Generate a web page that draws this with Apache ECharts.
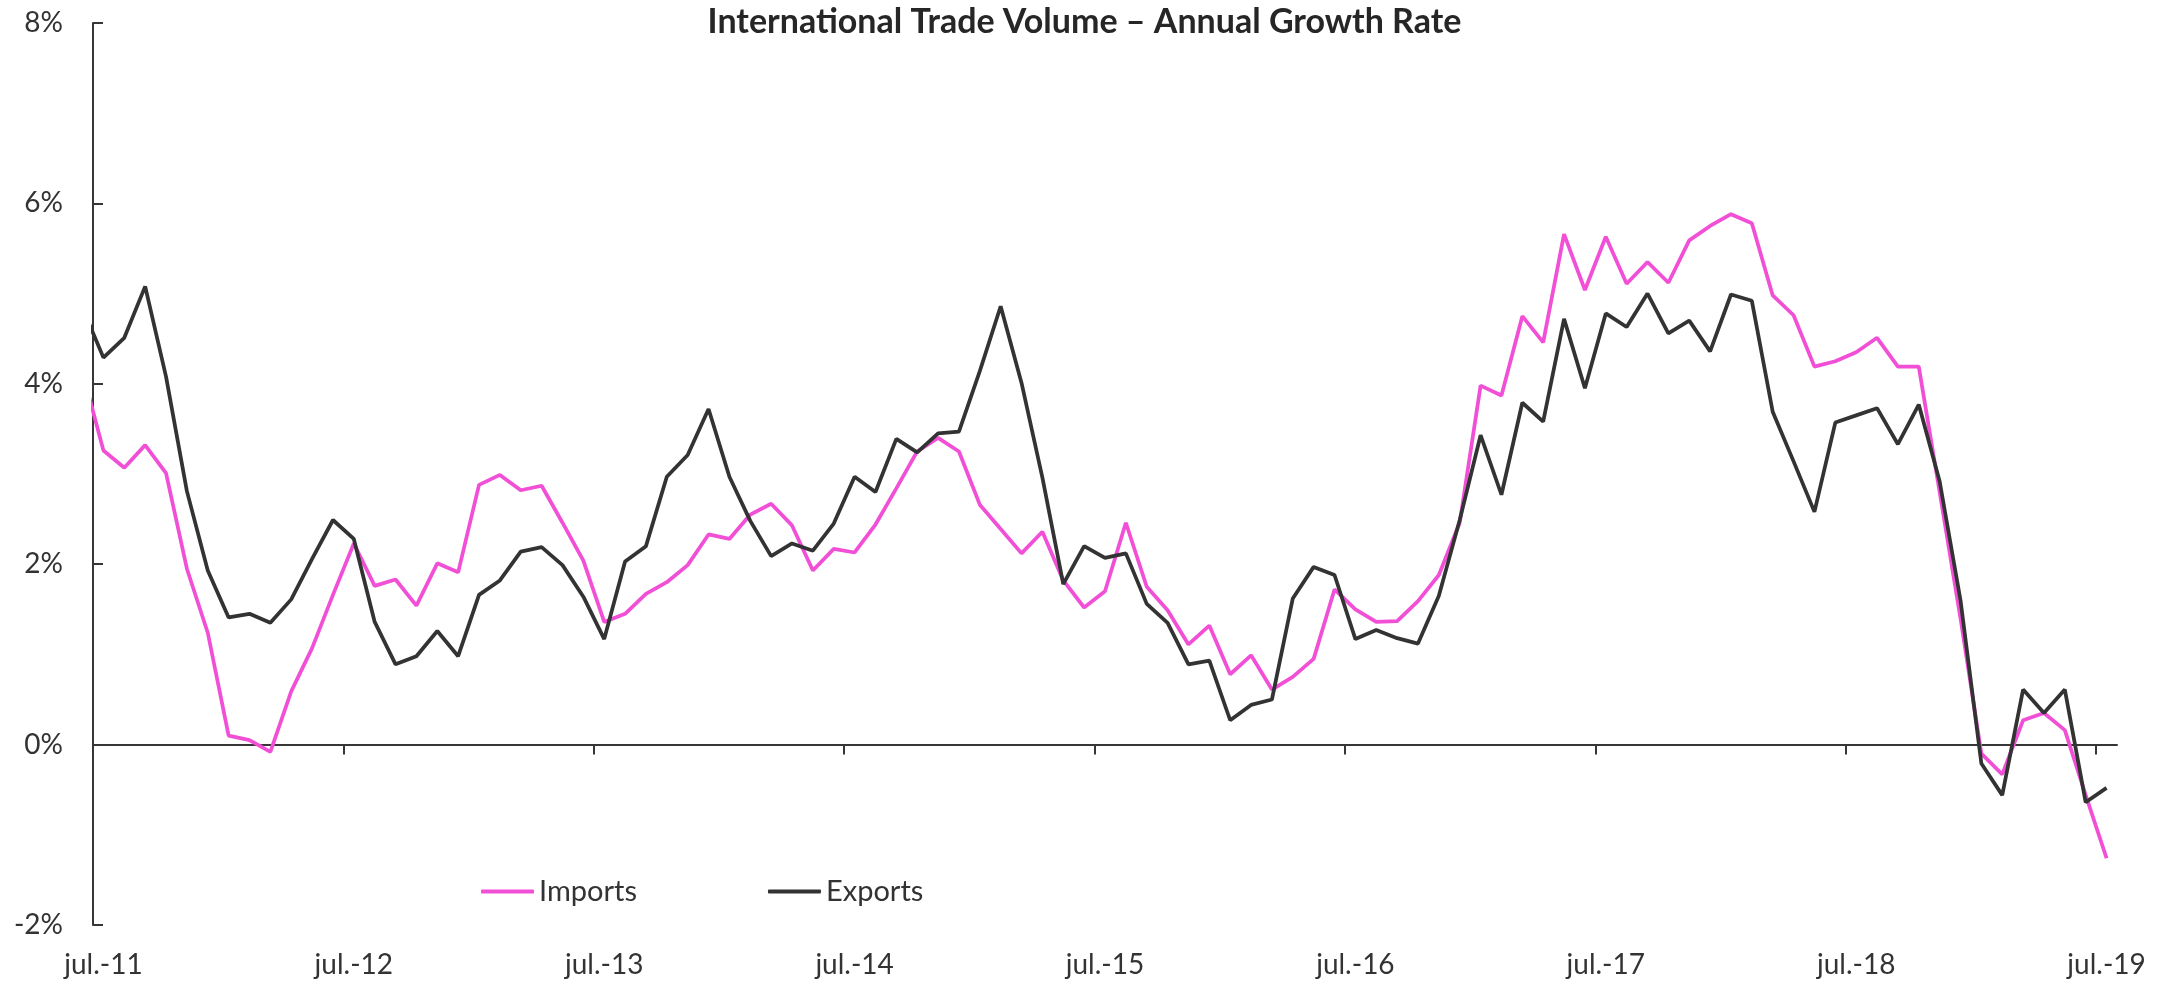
<!DOCTYPE html>
<html>
<head>
<meta charset="utf-8">
<script src="https://cdn.jsdelivr.net/npm/echarts@6/dist/echarts.min.js"></script>
<style>
  html, body { margin: 0; padding: 0; background: #fff; }
  #chart { width: 2169px; height: 986px; }
</style>
</head>
<body>
<div id="chart"></div>
<script>
// monthly points, jun-11 .. jul-19 (first one sits left of the axis and gets clipped)
var startMonth = -1;
var tickLabels = ['jul.-11', 'jul.-12', 'jul.-13', 'jul.-14', 'jul.-15', 'jul.-16', 'jul.-17', 'jul.-18', 'jul.-19'];
var imports = [
  4.13, 3.26, 3.07, 3.32, 3.01, 1.95, 1.24, 0.10, 0.05, -0.08, 0.59, 1.07, 1.66,
  2.23, 1.76, 1.83, 1.54, 2.01, 1.91, 2.88, 2.99, 2.82, 2.87, 2.46, 2.04,
  1.36, 1.45, 1.67, 1.80, 1.99, 2.33, 2.28, 2.55, 2.67, 2.43, 1.93, 2.17,
  2.13, 2.44, 2.84, 3.25, 3.40, 3.25, 2.66, 2.39, 2.12, 2.36, 1.82, 1.52,
  1.70, 2.46, 1.75, 1.49, 1.11, 1.32, 0.78, 0.99, 0.61, 0.75, 0.95, 1.72,
  1.50, 1.36, 1.37, 1.59, 1.88, 2.46, 3.98, 3.87, 4.75, 4.46, 5.66, 5.04,
  5.63, 5.11, 5.35, 5.12, 5.59, 5.75, 5.88, 5.78, 4.98, 4.76, 4.19, 4.25,
  4.35, 4.51, 4.19, 4.19, 2.80, 1.40, -0.10, -0.33, 0.27, 0.35, 0.16, -0.56,
  -1.26
];
var exports = [
  4.84, 4.29, 4.51, 5.08, 4.08, 2.81, 1.93, 1.41, 1.45, 1.35, 1.61, 2.06, 2.49,
  2.28, 1.36, 0.89, 0.98, 1.26, 0.98, 1.66, 1.82, 2.14, 2.19, 1.99, 1.64,
  1.17, 2.03, 2.20, 2.97, 3.21, 3.72, 2.97, 2.48, 2.09, 2.23, 2.15, 2.45,
  2.97, 2.80, 3.39, 3.24, 3.45, 3.47, 4.14, 4.86, 4.01, 2.96, 1.78, 2.20,
  2.07, 2.12, 1.56, 1.35, 0.89, 0.93, 0.27, 0.44, 0.50, 1.62, 1.97, 1.88,
  1.17, 1.27, 1.18, 1.12, 1.65, 2.49, 3.43, 2.77, 3.79, 3.58, 4.72, 3.95,
  4.78, 4.63, 5.00, 4.56, 4.70, 4.36, 4.99, 4.92, 3.69, 3.14, 2.58, 3.57,
  3.65, 3.73, 3.33, 3.77, 2.92, 1.60, -0.21, -0.56, 0.61, 0.35, 0.61, -0.64,
  -0.48
];

var font = 'Lato, "Open Sans", sans-serif';
var axisColor = '#363636';
var yearTicks = tickLabels.map(function (l, i) { return i * 12; });
// labels sit under the july point, half a month right of the tick
var yearLabelPos = yearTicks.map(function (t) { return t + 0.5; });

// each month is drawn in the middle of its slot (Excel "between tick marks")
function toPoints(arr) {
  return arr.map(function (v, i) { return [startMonth + i + 0.5, v]; });
}

var myChart = echarts.init(document.getElementById('chart'));
myChart.setOption({
  animation: false,
  textStyle: { fontFamily: font },
  title: {
    text: 'International Trade Volume – Annual Growth Rate',
    left: 'center',
    top: 5,
    padding: 0,
    textStyle: { fontFamily: font, fontSize: 34, fontWeight: 'bold', color: '#262626' }
  },
  legend: {
    left: 481,
    top: 877,
    padding: 0,
    itemWidth: 53,
    itemHeight: 4,
    itemGap: 131,
    icon: 'roundRect',
    textStyle: { fontFamily: font, fontSize: 29, color: '#333' },
    data: ['Imports', 'Exports']
  },
  grid: {
    left: 93, right: 52, top: 23, bottom: 61,
    containLabel: false,
    outerBoundsMode: 'none'
  },
  xAxis: [
    {
      // line at zero with year ticks pointing down
      type: 'value',
      position: 'top',
      min: 0, max: 97,
      axisLine: { onZero: true, lineStyle: { color: axisColor, width: 2 } },
      axisTick: { show: true, inside: true, length: 10, customValues: yearTicks,
                  lineStyle: { color: axisColor, width: 2 } },
      axisLabel: { show: false },
      splitLine: { show: false }
    },
    {
      // labels along the bottom
      type: 'value',
      position: 'bottom',
      min: 0, max: 97,
      axisLine: { show: false, onZero: false },
      axisTick: { show: false },
      splitLine: { show: false },
      axisLabel: {
        customValues: yearLabelPos,
        margin: 26,
        fontFamily: font,
        fontSize: 28,
        color: '#333',
        formatter: function (v) { return tickLabels[Math.round((v - 0.5) / 12)]; }
      }
    }
  ],
  yAxis: {
    type: 'value',
    min: -2, max: 8, interval: 2,
    axisLine: { show: true, lineStyle: { color: axisColor, width: 2 } },
    axisTick: { show: true, inside: true, length: 10, lineStyle: { color: axisColor, width: 2 } },
    splitLine: { show: false },
    axisLabel: {
      margin: 30,
      fontFamily: font,
      fontSize: 28,
      color: '#333',
      formatter: function (v) { return v + '%'; }
    }
  },
  series: [
    {
      name: 'Imports',
      type: 'line',
      xAxisIndex: 0,
      showSymbol: false,
      symbol: 'none',
      color: '#F24FD7',
      lineStyle: { width: 3.75, color: '#F24FD7' },
      data: toPoints(imports)
    },
    {
      name: 'Exports',
      type: 'line',
      xAxisIndex: 0,
      showSymbol: false,
      symbol: 'none',
      color: '#333333',
      lineStyle: { width: 3.75, color: '#333333' },
      data: toPoints(exports)
    }
  ]
});
</script>
</body>
</html>
